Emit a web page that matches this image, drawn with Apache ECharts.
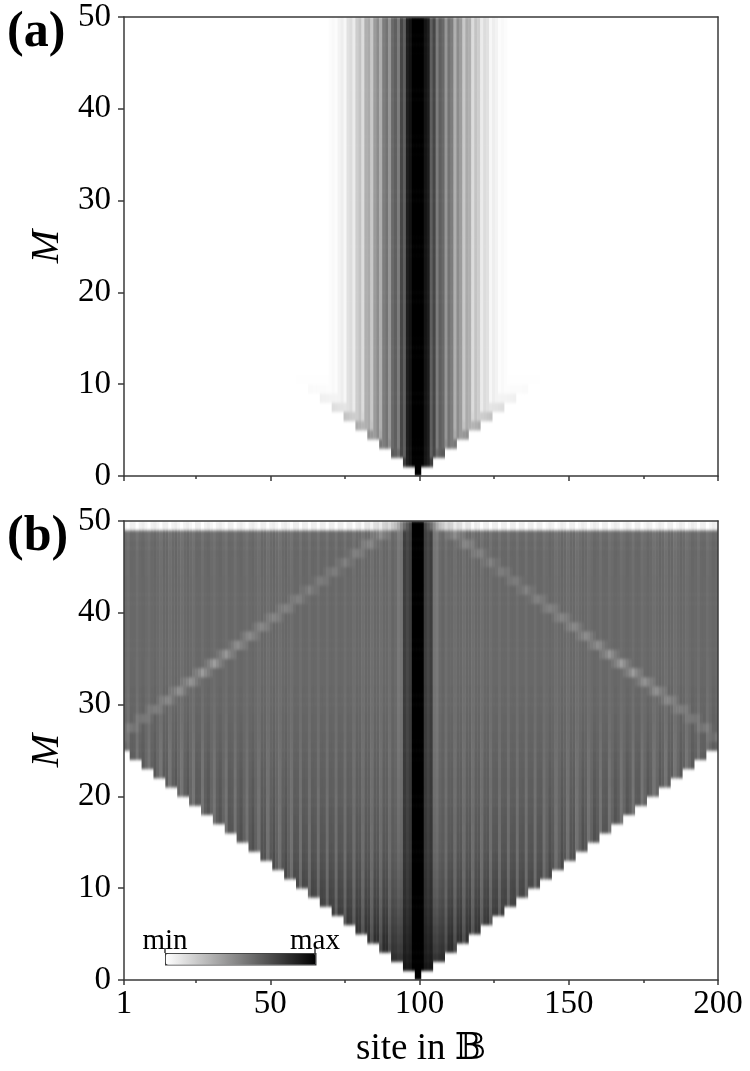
<!DOCTYPE html>
<html><head><meta charset="utf-8">
<style>html,body{margin:0;padding:0;background:#fff}#c{width:750px;height:1071px}</style>
<script src="https://cdn.jsdelivr.net/npm/echarts@6/dist/echarts.min.js"></script>
</head><body>
<svg width="0" height="0" style="position:absolute"><filter id="soft" x="0" y="0" width="100%" height="100%" color-interpolation-filters="sRGB"><feGaussianBlur stdDeviation="0.5 1.6"/></filter></svg>
<div id="c"></div>
<script>
// ---- values (grey levels: 0 black, 255 white) ----
const siteCount = 200, rowCount = 50;
const xMajorTicks = [1, 50, 100, 150, 200];
const xMinorTicks = [25, 75, 125, 175];

// panel (a): steady grey by distance from the centre sites 99/100
const profileA = [0,0,20,30,95,70,125,95,105,150,115,125,175,140,155,200,170,175,220,195,205,235,220,225,247,238,243,252,249,252,255];
// panel (a): grey at the wedge front, rows 1..12
const frontA = [0,60,90,120,145,170,195,222,240,250,254,255];

// panel (b): background grey of each row 1..50
const baseB = [30,40,48,55,60,65,70,74,78,82,85,88,90,92,94,95,96,97,98,99,100,100,101,102,102,103,103,104,104,105,105,105,106,106,106,106,106,106,106,106,106,106,106,106,106,106,106,107,110,225];
// panel (b): stripe contrast of each row 1..50
const ampB = [14,16,18,20,22,22,22,22,22,22,22,22,21,21,20,20,20,19,19,18,18,17,17,16,15,13,12,11,10,9,8,8,7,7,7,6,6,6,6,6,6,6,7,7,8,8,9,10,10,10];
// panel (b): stripe strength by depth behind the front, per 10 sites
const depthB = [0.95,0.9,0.85,0.75,0.7,0.6,0.6,0.6,0.6,0.6,0.6];
// panel (b): core grey by distance from the centre
const coreB = [0,0,60,70,60,115,120,105,100];
// panel (b): stripe pattern by distance from the centre
const stripeB = [0,0,0,0,0,0,0,0,0,
 1,-.5,-.6,1,-.5,-.6,1,-.5,-.6,1,-.5,-.6,1,-.5,-.6,1,-.5,-.6,1,-.5,-.6,1,-.5,-.6,
 1,-.5,-.6,1,-.5,-.6,1,-.5,-.6,1,.1,-.8,-.3,1,.1,-.8,-.3,1,-.5,-.6,1,.1,-.8,-.3,
 1,.1,-.8,-.3,1,-.5,-.6,1,.1,-.8,-.3,1,.1,-.8,-.3,1,-.5,-.6,1,.1,-.8,-.3,1,.1,-.8,-.3,1,
 -.5,-.6,1,.1,-.8,-.3,1,.1,-.8,-.3,1,-.5,-.6,1,.1,-.8,-.3,1,-.5,-.6,1,.1,-.8,-.3,1];
// panel (b): light diagonal, rows 26..49: distance from centre and added brightness
const ridgeDistB = [104,100,96,92,88,84,80,76,72,68,64,60,56,52,48,44,40,36,32,28,24,20,16,12];
const ridgeLiftB = [18,20,22,22,25,30,36,40,46,48,42,36,34,30,28,26,24,22,20,20,20,22,26,26];
// panel (b): top row grey by distance from the centre
const topB = [0,0,70,90,110,140,170,190,200,205,212,218,222,226,230,232,234,236,238,240];

// ---- tables for the heatmaps ----
const sites = Array.from({length: siteCount}, (_, i) => String(i + 1));
const rows = Array.from({length: rowCount}, (_, i) => String(i + 1));
const dist = s => Math.round(Math.abs(s - 99.5) - 0.5);
const dark = g => +(1 - Math.min(255, Math.max(0, g)) / 255).toFixed(3);

function cellA(s, k) {
  const d = dist(s);
  if (d > 4 * (k - 1)) return null;
  let g = d < profileA.length ? profileA[d] : 255;
  if (k <= frontA.length) {
    const f = frontA[k - 1], e = 4 * (k - 1) - d;
    if (e < 18) g = Math.min(g, 255 - (255 - f) * (1 - e / 18));
  }
  return g;
}
function cellB(s, k) {
  const d = dist(s);
  if (d > 4 * (k - 1)) return null;
  if (k === rowCount) {
    if (d < topB.length) return topB[d] + (d > 8 ? stripeB[d] * 12 : 0);
    return 244 + stripeB[d] * 10;
  }
  if (d < coreB.length) return coreB[d] * baseB[k - 1] / 105;
  const depth = depthB[Math.min(depthB.length - 1, Math.floor((4 * (k - 1) - d) / 10))];
  let g = baseB[k - 1] + stripeB[d] * ampB[k - 1] * depth;
  const idx = k - 26;
  if (idx >= 0 && idx < ridgeDistB.length) {
    const delta = Math.abs(d - ridgeDistB[idx]);
    if (delta < 4) g += ridgeLiftB[idx] * (1 - delta / 4);
  }
  return g;
}
function table(fn) {
  const out = [];
  for (let k = 1; k <= rowCount; k++)
    for (let s = 1; s <= siteCount; s++) {
      const g = fn(s, k);
      if (g !== null && g < 255) out.push([s - 1, k - 1, dark(g)]);
    }
  return out;
}

// ---- chart ----
const serif = '"Liberation Serif","DejaVu Serif",serif';
const LINE = {color: '#3a3a3a', width: 1.5};
const tops = [17, 521];
const grids = tops.map(t => ({left: 124, width: 594, top: t, height: 459, show: false}));
const xAxes = [], yAxes = [], series = [];

tops.forEach((t, p) => {
  const xb = xAxes.length, yb = yAxes.length;
  const common = {zlevel: 1, gridIndex: p, type: 'value', splitLine: {show: false}, animation: false, silent: true};
  // hidden band axes that carry the cells
  xAxes.push({type: 'category', gridIndex: p, data: sites, show: false});
  yAxes.push({type: 'category', gridIndex: p, data: rows, show: false});
  // visible axes
  xAxes.push({...common, min: 1, max: 200, position: 'bottom',
    axisLine: {show: true, onZero: false, lineStyle: LINE},
    axisTick: {show: true, length: 5, lineStyle: LINE, customValues: xMajorTicks},
    axisLabel: {show: p === 1, customValues: xMajorTicks, color: '#000', fontFamily: serif, fontSize: 33, margin: 8, showMinLabel: true, showMaxLabel: true},
    name: p === 1 ? 'site in \u{1D539}' : '', nameLocation: 'middle', nameGap: 51,
    nameTextStyle: {color: '#000', fontFamily: serif + ',"DejaVu Sans"', fontSize: 37}});
  xAxes.push({...common, min: 1, max: 200, position: 'bottom',
    axisLine: {show: false, onZero: false},
    axisTick: {show: true, length: 3, lineStyle: LINE, customValues: xMinorTicks},
    axisLabel: {show: false}});
  xAxes.push({...common, min: 1, max: 200, position: 'top',
    axisLine: {show: true, onZero: false, lineStyle: LINE}, axisTick: {show: false}, axisLabel: {show: false}});
  yAxes.push({...common, min: 0, max: 50, interval: 10, position: 'left',
    axisLine: {show: true, onZero: false, lineStyle: LINE},
    axisTick: {show: true, length: 6, lineStyle: LINE},
    axisLabel: {color: '#000', fontFamily: serif, fontSize: 33, margin: 13, showMinLabel: true, showMaxLabel: true},
    name: 'M', nameLocation: 'middle', nameRotate: 90, nameGap: 55,
    nameTextStyle: {color: '#000', fontFamily: serif, fontStyle: 'italic', fontSize: 40}});
  yAxes.push({...common, min: 0, max: 50, position: 'right',
    axisLine: {show: true, onZero: false, lineStyle: LINE}, axisTick: {show: false}, axisLabel: {show: false}});
  series.push({type: 'heatmap', xAxisIndex: xb, yAxisIndex: yb, data: table(p === 0 ? cellA : cellB),
    progressive: 0, animation: false, silent: true, zlevel: 0});
});

const chart = echarts.init(document.getElementById('c'), null, {renderer: 'canvas'});
chart.setOption({
  backgroundColor: '#fff',
  animation: false,
  grid: grids,
  xAxis: xAxes,
  yAxis: yAxes,
  series,
  title: [
    {text: '(a)', left: 7, top: 8, zlevel: 1, padding: 0, textStyle: {fontFamily: serif, fontWeight: 'bold', fontSize: 50, color: '#000'}},
    {text: '(b)', left: 7, top: 512, zlevel: 1, padding: 0, textStyle: {fontFamily: serif, fontWeight: 'bold', fontSize: 50, color: '#000'}}
  ],
  visualMap: {
    type: 'continuous', min: 0, max: 1, orient: 'horizontal', seriesIndex: [0, 1], dimension: 2,
    calculable: false, showLabel: false, text: null, left: 165, top: 953, itemWidth: 11, itemHeight: 150,
    padding: 0, borderWidth: 1.5, borderColor: '#3a3a3a', zlevel: 1, silent: true,
    inRange: {color: ['#ffffff', '#000000']}
  },
  graphic: [
    {type: 'text', zlevel: 1, x: 165, y: 956, style: {text: 'min', fontFamily: serif, fontSize: 29, fill: '#000', textAlign: 'center', textVerticalAlign: 'bottom'}},
    {type: 'text', zlevel: 1, x: 315, y: 956, style: {text: 'max', fontFamily: serif, fontSize: 29, fill: '#000', textAlign: 'center', textVerticalAlign: 'bottom'}},
    {type: 'line', zlevel: 1, shape: {x1: 165, y1: 948, x2: 165, y2: 953}, style: {stroke: '#3a3a3a', lineWidth: 1.5}},
    {type: 'line', zlevel: 1, shape: {x1: 315, y1: 948, x2: 315, y2: 953}, style: {stroke: '#3a3a3a', lineWidth: 1.5}}
  ]
});
// imshow-like soft cell edges on the cell layer only
chart.on('finished', soften);
soften();
function soften() {
  const cv = document.querySelector('#c canvas[data-zr-dom-id="zr_0"]') || document.querySelector('#c canvas');
  if (cv) {
    cv.style.filter = 'url(#soft)';
    cv.style.clipPath = "path('M124 17H718V476H124Z M124 521H718V980H124Z')";
  }
}
</script>
</body></html>
